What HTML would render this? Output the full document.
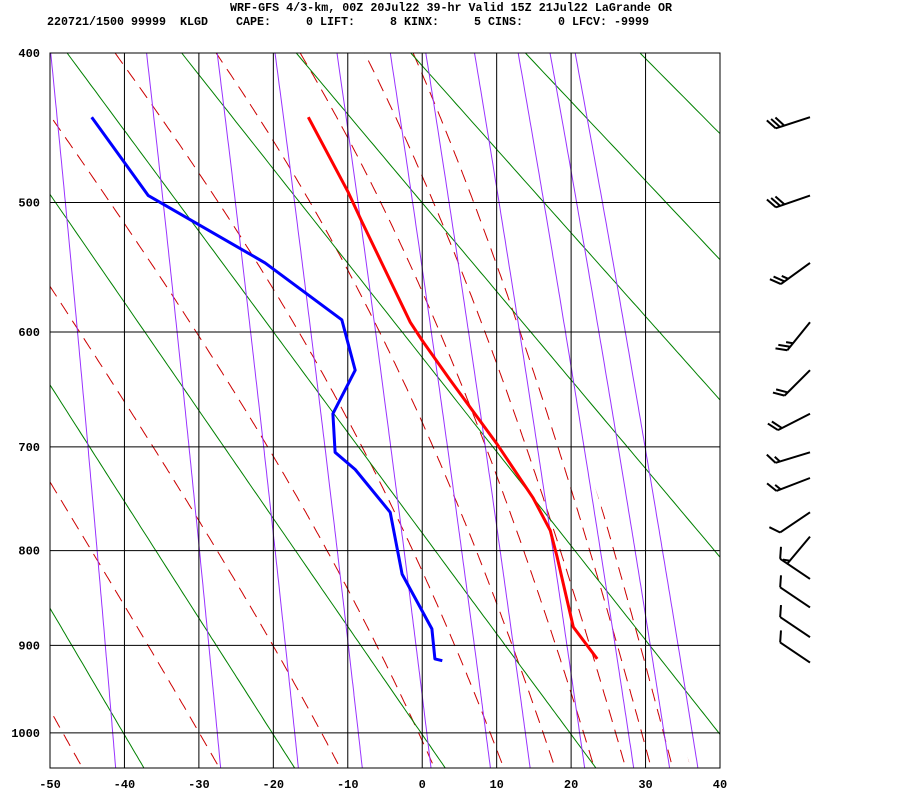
<!DOCTYPE html>
<html><head><meta charset="utf-8"><style>
html,body{margin:0;padding:0;background:#fff;}
svg{display:block;}
text{font-family:"Liberation Mono",monospace;font-weight:bold;font-size:12px;fill:#000;}
</style></head><body>
<svg id="chart" width="900" height="800" viewBox="0 0 900 800" xmlns="http://www.w3.org/2000/svg">
<text x="230" y="11" textLength="442" lengthAdjust="spacingAndGlyphs" xml:space="preserve">WRF-GFS 4/3-km, 00Z 20Jul22 39-hr Valid 15Z 21Jul22 LaGrande OR</text>
<text x="47" y="25" textLength="602" lengthAdjust="spacingAndGlyphs" xml:space="preserve">220721/1500 99999  KLGD    CAPE:     0 LIFT:     8 KINX:     5 CINS:     0 LFCV: -9999</text>
<defs>
<clipPath id="plotclip"><rect x="50" y="53" width="670" height="715"/></clipPath>
<clipPath id="moistclip"><polygon points="50,53 446,53 720,852 50,852"/></clipPath>
</defs>
<g id="bg" clip-path="url(#plotclip)">
<g id="moist" clip-path="url(#moistclip)"></g>
</g>
<g id="grid"></g>
<g id="prof" clip-path="url(#plotclip)"></g>
<g id="barbs"></g>
<rect x="50" y="53" width="670" height="715" fill="none" stroke="#000" stroke-width="1"/>
</svg>
<script>
const tempTicks = [-50,-40,-30,-20,-10,0,10,20,30,40];
const presTicks = [400,500,600,700,800,900,1000];
const dryThetaK = [213,233,253,273,293,313,333,353,373,393,413,433];
const moistThetaE = [206,225,244,263,282,301,320,339,358,377,396,415,434,453,472];
const mixRatios = [0.1,0.4,1,2,4,7,10,16,24,32,40];
const tempP = [441,492,514,592,607,640,697,748,780,806,880,915];
const tempT = [-15.3,-10.0,-8.1,-1.6,0.0,3.7,10.0,14.9,17.2,18.1,20.3,23.5];
const dewP = [441,495,545,590,632,670,705,721,762,824,882,915,917];
const dewT = [-44.4,-36.8,-21.1,-10.8,-9.0,-12.0,-11.7,-9.0,-4.3,-2.7,1.3,1.7,2.7];
const windP = [441,495,545,592,632,670,705,729,762,786,829,859,891,919];
const windDir = [252,251,234,219,225,243,253,249,236,220,304,304,304,304];
const windSpd = [30,30,25,25,20,20,15,15,10,5,10,10,10,10];

const NS='http://www.w3.org/2000/svg';
const K=0.286;
function xT(t){return 50+(t+50)*670/90;}
function yP(p){return 53+(Math.pow(p,K)-Math.pow(400,K))*409;}
function mk(tag,attrs,parent){const e=document.createElementNS(NS,tag);for(const k in attrs)e.setAttribute(k,attrs[k]);parent.appendChild(e);return e;}
const bg=document.getElementById('bg'),moist=document.getElementById('moist'),grid=document.getElementById('grid'),prof=document.getElementById('prof'),barbs=document.getElementById('barbs');
const pLevels=[];for(let p=380;p<=1060;p+=4)pLevels.push(p);

dryThetaK.forEach(th=>{
  const d=pLevels.map((p,i)=>(i?'L':'M')+xT(th*Math.pow(p/1000,K)-273.15).toFixed(1)+' '+yP(p).toFixed(1)).join('');
  const e=mk('path',{d:d,fill:'none',stroke:'#008000','stroke-width':1},bg);
  
  
});
function esat(tc){return 6.112*Math.exp(17.67*tc/(tc+243.5));}
mixRatios.forEach(w=>{
  const d=pLevels.map((p,i)=>{const e=w*p/(622+w);const l=Math.log(e/6.112);const t=243.5*l/(17.67-l);return (i?'L':'M')+xT(t).toFixed(1)+' '+yP(p).toFixed(1);}).join('');
  const e=mk('path',{d:d,fill:'none',stroke:'#9933ff','stroke-width':1},bg);
  
  
});
function dTdp(T,p){const Rd=287.04,Cp=1005.7,L=2.501e6,eps=0.622;const es=esat(T-273.15);const rs=eps*es/(p-es);return (Rd*T+L*rs)/(p*(Cp+L*L*rs*eps/(Rd*T*T)));}
function thetaE1000(T){const es=esat(T-273.15);const rs=0.622*es/(1000-es);return T*Math.exp(2.501e6*rs/(1005.7*T));}
function twFromTe(te){let lo=180,hi=320;for(let i=0;i<60;i++){const m=(lo+hi)/2;if(thetaE1000(m)<te)lo=m;else hi=m;}return (lo+hi)/2;}
moistThetaE.forEach(te=>{
  const T0=twFromTe(te);
  let pts=[];let T=T0,p=1000;const h=2;
  pts.push([p,T]);
  while(p>380){const k1=dTdp(T,p);const k2=dTdp(T-h*k1/2,p-h/2);T=T-h*k2;p-=h;pts.unshift([p,T]);}
  T=T0;p=1000;
  while(p<1060){const k1=dTdp(T,p);const k2=dTdp(T+h*k1/2,p+h/2);T=T+h*k2;p+=h;pts.push([p,T]);}
  pts.reverse();
  const d=pts.map((q,i)=>(i?'L':'M')+xT(q[1]-273.15).toFixed(1)+' '+yP(q[0]).toFixed(1)).join('');
  const e=mk('path',{d:d,fill:'none',stroke:'#cc0000','stroke-width':1,'stroke-dasharray':'13,8'},moist);
  
  
});
tempTicks.forEach(t=>{
  const x=xT(t);
  const l=mk('line',{x1:x,y1:53,x2:x,y2:768,stroke:'#000','stroke-width':1},grid);
  
  
  const tx=mk('text',{x:x,y:788,'text-anchor':'middle'},grid);tx.textContent=t;
  
  
});
presTicks.forEach(p=>{
  const y=yP(p);
  const l=mk('line',{x1:50,y1:y,x2:720,y2:y,stroke:'#000','stroke-width':1},grid);
  
  
  const tx=mk('text',{x:40,y:y+4,'text-anchor':'end'},grid);tx.textContent=p;
  
  
});
function line(P,T,color,name){
  const d=P.map((p,i)=>(i?'L':'M')+xT(T[i]).toFixed(1)+' '+yP(p).toFixed(1)).join('');
  const e=mk('path',{d:d,fill:'none',stroke:color,'stroke-width':3,'stroke-linejoin':'round'},prof);
  
  
}
line(dewP,dewT,'#0000ff','dewpoint-profile');
line(tempP,tempT,'#ff0000','temperature-profile');
windP.forEach((p,i)=>{
  const sx=810,sy=yP(p);const a=windDir[i]*Math.PI/180;const Lh=36;
  const ux=Math.sin(a),uy=-Math.cos(a);
  const tx=sx+ux*Lh,ty=sy+uy*Lh;
  const g=mk('g',{},barbs);
  
  
  mk('line',{x1:sx,y1:sy,x2:tx,y2:ty,stroke:'#000','stroke-width':2},g);
  const ang=Math.atan2(uy,ux)+60*Math.PI/180;const fx=Math.cos(ang),fy=Math.sin(ang);
  let s=windSpd[i];let off=0;
  while(s>=10){const bx=tx-ux*off,by=ty-uy*off;mk('line',{x1:bx,y1:by,x2:bx+fx*12,y2:by+fy*12,stroke:'#000','stroke-width':2},g);s-=10;off+=4.5;}
  if(s>=5){if(off===0)off=4.5;const bx=tx-ux*off,by=ty-uy*off;mk('line',{x1:bx,y1:by,x2:bx+fx*7,y2:by+fy*7,stroke:'#000','stroke-width':2},g);}
});
</script>
</body></html>
